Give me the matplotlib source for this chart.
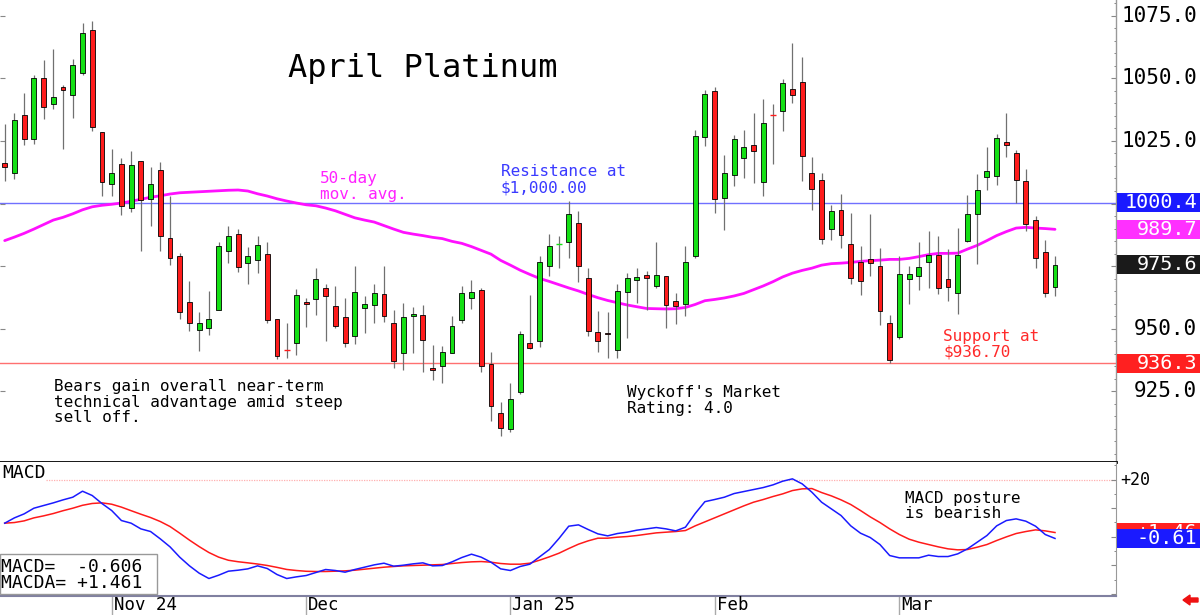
import numpy as np
import matplotlib
matplotlib.use("Agg")
import matplotlib.pyplot as plt
from matplotlib.patches import Rectangle, FancyArrow
from matplotlib.transforms import blended_transform_factory, IdentityTransform
from matplotlib.ticker import MultipleLocator

# ---------------- data ----------------
opens = [1016.0, 1012.0, 1035.2, 1025.6, 1050.0, 1039.8, 1046.6, 1043.2, 1052.3, 1069.4,
         1028.7, 1007.7, 1015.7, 998.1, 1016.8, 1001.8, 1013.4, 986.3, 978.9, 960.6,
         949.5, 950.3, 957.6, 981.1, 987.8, 976.2, 977.3, 979.9, 953.8, 941.5,
         944.2, 960.6, 961.9, 966.2, 959.1, 954.8, 947.1, 958.3, 959.4, 963.8,
         952.2, 940.4, 955.1, 955.6, 934.5, 935.1, 940.2, 953.5, 962.3, 965.5,
         935.9, 916.4, 910.0, 924.7, 944.4, 945.0, 975.1, 983.9, 984.7, 992.2,
         970.1, 948.8, 948.4, 941.5, 964.7, 969.3, 971.5, 967.1, 971.0, 961.2,
         959.9, 978.9, 1026.7, 1045.0, 1002.4, 1011.4, 1018.0, 1023.2, 1008.6, 1035.6,
         1036.8, 1045.6, 1048.6, 1012.0, 1009.3, 989.8, 997.6, 983.9, 976.5, 977.8,
         975.1, 952.2, 946.6, 969.8, 970.9, 976.5, 979.5, 969.8, 964.2, 985.0,
         996.0, 1010.4, 1010.9, 1024.5, 1020.0, 1008.9, 993.6, 980.5, 966.6]
highs = [1031.7, 1036.3, 1044.0, 1051.2, 1057.4, 1061.9, 1047.2, 1057.9, 1072.1, 1073.0,
         1028.7, 1021.6, 1018.1, 1020.8, 1016.8, 1014.7, 1016.5, 1002.9, 980.2, 968.9,
         956.7, 964.9, 984.5, 991.2, 989.8, 982.6, 987.1, 984.5, 953.8, 952.4,
         965.8, 962.3, 974.2, 967.9, 967.0, 962.3, 974.9, 963.1, 967.7, 975.1,
         957.5, 960.2, 958.6, 959.4, 943.4, 943.2, 955.1, 966.9, 969.5, 966.1,
         940.7, 920.7, 928.4, 949.2, 963.3, 979.1, 987.7, 987.1, 1001.0, 997.0,
         974.3, 957.2, 956.7, 967.7, 972.4, 974.1, 972.9, 984.5, 971.0, 964.2,
         983.1, 1029.3, 1045.4, 1046.7, 1019.5, 1027.2, 1029.3, 1036.3, 1041.6, 1039.8,
         1049.9, 1064.0, 1058.7, 1018.6, 1012.0, 999.4, 1003.7, 996.2, 982.9, 995.7,
         982.3, 955.6, 979.1, 974.9, 984.7, 989.0, 986.9, 982.0, 990.1, 1003.3,
         1011.7, 1022.4, 1027.7, 1036.3, 1021.3, 1013.6, 994.9, 985.5, 978.9]
lows = [1009.0, 1009.8, 1023.5, 1023.7, 1033.9, 1037.9, 1021.9, 1034.1, 1051.2, 1028.8,
        1002.9, 1003.2, 995.4, 996.5, 981.0, 990.9, 981.0, 975.4, 953.9, 949.0,
        941.2, 947.5, 957.6, 976.2, 972.6, 967.9, 972.2, 952.2, 937.9, 938.5,
        939.5, 950.6, 955.6, 945.2, 950.3, 942.6, 943.9, 948.2, 952.4, 952.7,
        934.5, 933.7, 940.4, 932.9, 929.5, 928.4, 940.2, 952.4, 957.8, 932.9,
        913.2, 907.0, 908.9, 923.9, 941.8, 942.6, 971.1, 974.3, 978.1, 968.7,
        947.1, 940.7, 938.3, 938.5, 946.3, 960.4, 957.5, 966.1, 950.3, 951.9,
        955.1, 978.3, 1022.9, 996.2, 989.3, 1006.9, 1010.1, 1008.2, 1003.2, 1015.7,
        1029.1, 1040.3, 1009.0, 997.3, 983.9, 985.3, 982.3, 967.7, 963.4, 971.1,
        951.5, 936.3, 945.8, 959.9, 965.3, 966.3, 963.9, 961.2, 955.9, 984.6,
        975.9, 1005.3, 1007.4, 1018.6, 1000.2, 989.0, 974.3, 962.8, 963.1]
closes = [1014.7, 1033.3, 1025.9, 1050.0, 1038.7, 1042.7, 1045.4, 1055.4, 1068.1, 1030.7,
          1008.5, 1012.0, 999.2, 1015.4, 1001.3, 1008.0, 986.9, 978.1, 956.6, 952.2,
          952.4, 953.8, 983.1, 987.1, 974.6, 979.1, 983.5, 953.5, 939.2, 941.4,
          963.5, 959.9, 969.8, 963.1, 951.2, 944.2, 964.6, 959.9, 964.4, 955.1,
          937.2, 954.8, 955.9, 945.6, 933.5, 940.7, 951.2, 964.4, 964.8, 935.1,
          919.3, 910.2, 922.0, 947.9, 942.3, 976.5, 983.1, 984.0, 995.9, 974.9,
          949.0, 945.0, 947.9, 965.0, 970.3, 970.6, 970.1, 971.5, 959.6, 959.1,
          976.7, 1026.9, 1043.6, 1002.0, 1012.2, 1025.6, 1022.4, 1020.8, 1032.0, 1035.5,
          1048.3, 1043.2, 1019.1, 1005.7, 985.8, 996.9, 987.4, 970.3, 969.0, 976.2,
          957.2, 937.5, 971.7, 971.7, 974.6, 979.5, 966.2, 966.6, 979.4, 995.7,
          1005.6, 1012.8, 1026.1, 1023.2, 1009.3, 992.0, 978.1, 964.2, 975.6]
ma50 = [985.2, 986.6, 988.1, 989.8, 991.6, 993.4, 994.5, 995.9, 997.5, 998.7,
        999.3, 999.7, 1000.2, 1000.9, 1001.7, 1002.5, 1003.1, 1003.8, 1004.3, 1004.5,
        1004.7, 1004.9, 1005.1, 1005.3, 1005.4, 1005.0, 1003.9, 1003.0, 1001.9, 1001.0,
        1000.2, 999.5, 999.1, 998.2, 997.1, 995.7, 994.3, 993.4, 992.6, 991.2,
        989.8, 988.5, 987.8, 987.2, 986.5, 986.0, 984.9, 984.1, 982.8, 981.3,
        979.8, 977.3, 975.4, 973.4, 971.7, 970.1, 968.9, 967.6, 966.3, 965.1,
        963.7, 962.4, 961.3, 960.4, 959.5, 958.8, 958.1, 958.0, 957.9, 958.0,
        958.5, 959.7, 961.2, 961.7, 962.3, 963.1, 964.1, 965.6, 967.1, 968.8,
        970.7, 972.2, 973.3, 974.2, 975.4, 976.0, 976.2, 976.5, 976.9, 977.2,
        977.4, 977.7, 977.7, 978.1, 978.8, 979.6, 980.1, 980.1, 980.2, 981.8,
        983.3, 985.2, 987.2, 988.8, 990.2, 990.5, 990.2, 990.0, 989.7]
macd = [4.73, 6.59, 7.99, 9.97, 10.91, 11.84, 12.89, 13.82, 15.92, 14.41,
        11.61, 9.16, 5.66, 4.73, 2.74, 1.81, -0.76, -3.55, -7.17, -10.20,
        -12.77, -14.63, -13.47, -12.07, -11.72, -11.25, -10.20, -11.13, -13.23, -14.63,
        -14.05, -13.58, -12.53, -11.48, -11.83, -12.42, -11.48, -10.67, -9.85, -9.27,
        -10.32, -9.97, -9.50, -9.15, -10.20, -10.08, -8.80, -7.29, -6.12, -7.17,
        -8.92, -11.25, -11.83, -10.43, -9.62, -7.05, -4.49, -0.60, 3.68, 4.14,
        2.51, 0.99, 0.29, 1.11, 1.58, 2.28, 2.74, 3.21, 2.74, 2.04,
        3.33, 8.11, 12.26, 13.01, 13.82, 15.10, 15.80, 16.50, 17.20, 18.14,
        19.42, 20.24, 18.49, 15.57, 12.07, 9.74, 7.41, 3.79, 1.23, -0.29,
        -2.74, -6.59, -7.40, -7.40, -7.40, -6.47, -6.94, -6.94, -6.00, -4.25,
        -1.92, 0.41, 3.79, 5.66, 6.24, 5.43, 3.68, 0.76, -0.61]
macda = [4.73, 4.96, 5.54, 6.59, 7.29, 8.11, 9.10, 9.97, 10.99, 11.63,
         11.84, 11.37, 10.35, 9.10, 7.87, 6.71, 5.31, 3.56, 1.23, -1.20,
         -3.47, -5.54, -7.15, -8.24, -8.76, -9.15, -9.56, -10.07, -10.73, -11.46,
         -11.83, -12.10, -12.18, -12.18, -12.07, -11.95, -11.72, -11.37, -11.02, -10.67,
         -10.43, -10.20, -10.08, -9.97, -9.85, -9.73, -9.38, -9.04, -8.80, -8.69,
         -8.92, -9.38, -9.62, -9.62, -9.27, -8.22, -7.05, -5.77, -4.14, -2.62,
         -1.45, -0.52, -0.52, -0.17, 0.06, 0.41, 0.88, 1.34, 1.58, 1.81,
         2.16, 3.79, 5.19, 6.59, 7.99, 9.39, 10.79, 12.07, 13.01, 14.06,
         14.99, 16.15, 16.74, 16.85, 15.45, 14.29, 12.89, 11.26, 9.16, 6.94,
         4.96, 2.74, 0.76, -0.87, -1.92, -2.74, -3.55, -4.25, -4.60, -4.49,
         -3.67, -2.74, -1.34, -0.06, 1.11, 1.81, 2.39, 2.04, 1.46]
month_pos = [11, 31, 52, 73, 92]
month_labels = ["Nov 24", "Dec", "Jan 25", "Feb", "Mar"]
price_ticks = [925, 950, 975, 1000, 1025, 1050, 1075]
price_labels = ["925.0", "950.0", "", "", "1025.0", "1050.0", "1075.0"]
resistance = 1000.4
support = 936.3
ma_last = 989.7
macd_last = -0.61
macda_last = 1.46

# ---------------- figure ----------------
W, H = 1200, 615
MONO = "DejaVu Sans Mono"
plt.rcParams["font.family"] = [MONO, "DejaVu Sans"]
fig = plt.figure(figsize=(W / 100, H / 100), dpi=100)
fig.patch.set_facecolor("white")


def fx(px):
    return px / W


def fy(py):
    return 1 - py / H


ax = fig.add_axes([0, fy(462), fx(1116), fy(0) - fy(462)])
ax2 = fig.add_axes([0, fy(596), fx(1116), fy(462) - fy(596)])

x = np.arange(len(closes))
o = np.array(opens)
h = np.array(highs)
l = np.array(lows)
c = np.array(closes)

GREEN = "#14e014"
RED = "#ff1c1c"
up = c > o
cols = np.where(up, GREEN, RED)
body = np.abs(c - o)
tiny = body < 0.5

ax.axhline(resistance, color="#7070ff", lw=1.0, zorder=1)
ax.axhline(support, color="#ff7070", lw=1.0, zorder=1)
ax.plot(x, ma50, color="#ff10ff", lw=2.0, zorder=1.5, solid_capstyle="round")
ax.vlines(x, l, h, color="#707070", lw=0.9, zorder=2)
ax.bar(x[~tiny], body[~tiny], bottom=np.minimum(o, c)[~tiny], width=0.5,
       color=cols[~tiny], edgecolor="black", linewidth=0.6, zorder=3)
for xi, ci, col in zip(x[tiny], c[tiny], cols[tiny]):
    ax.hlines(ci, xi - 0.3, xi + 0.3, color=col, lw=1.0, zorder=3)

xlim = (-4.7 / 9.725, (1116 - 4.7) / 9.725)
ax.set_xlim(*xlim)
ax.set_ylim(896.8, 1081.27)
ax.set_xticks([])
ax.set_yticks(price_ticks)
ax.set_yticklabels([])
ax.yaxis.set_minor_locator(MultipleLocator(5))
ax.tick_params(axis="y", which="major", direction="in", length=3.5, width=0.8,
               color="#888888", left=True, right=True, labelleft=False, labelright=False)
ax.tick_params(axis="y", which="minor", direction="in", length=1.8, width=0.7,
               color="#888888", left=False, right=True)
for s in ["top", "left"]:
    ax.spines[s].set_visible(False)
ax.spines["right"].set_color("#999999")
ax.spines["right"].set_linewidth(1.0)
ax.spines["bottom"].set_color("black")
ax.spines["bottom"].set_linewidth(2.0)

tr = blended_transform_factory(fig.transFigure, ax.transData)
for v, s in zip(price_ticks, price_labels):
    if s:
        ax.text(fx(1197), v, s, transform=tr, ha="right", va="center",
                fontsize=15, color="black", clip_on=False)


def value_box(axis, trans, value, text, color, hdata, z, clip_top=None):
    axis.add_patch(Rectangle((fx(1117), value - hdata / 2), fx(83), hdata,
                             transform=trans, facecolor=color, edgecolor="none",
                             clip_on=False, zorder=z))
    t = axis.text(fx(1197), value, text, transform=trans, ha="right", va="center",
                  fontsize=14.5, color="white", clip_on=False, zorder=z + 0.5)
    if clip_top is not None:
        # only the part of the box not covered by the next box stays visible
        lo, hi = clip_top
        cp = Rectangle((fx(1117), lo), fx(83), hi - lo, transform=trans)
        t.set_clip_on(True)
        t.set_clip_box(None)
        t.set_clip_path(cp)
    return t


bh = 19 / 2.504
value_box(ax, tr, resistance, f"{resistance:.1f}", "#1a1aff", bh, 10)
value_box(ax, tr, ma_last, f"{ma_last:.1f}", "#ff30ff", bh, 10)
value_box(ax, tr, closes[-1], f"{closes[-1]:.1f}", "#1a1a1a", bh, 10)
value_box(ax, tr, support, f"{support:.1f}", "#ff2020", bh, 10)

# ---------------- texts on price panel ----------------
fig.text(fx(288), fy(77), "April Platinum", fontsize=23, color="black",
         ha="left", va="baseline")


def lines(xp, ys, texts, color, size=11.5):
    for yp, t in zip(ys, texts):
        fig.text(fx(xp), fy(yp), t, fontsize=size, color=color, ha="left", va="center")


lines(320, [178, 194], ["50-day", "mov. avg."], "#ff22ff")
lines(501, [172, 188], ["Resistance at", "$1,000.00"], "#3a3aff")
lines(54, [386, 402, 418], ["Bears gain overall near-term",
                            "technical advantage amid steep", "sell off."], "black")
lines(627, [393, 409], ["Wyckoff's Market", "Rating: 4.0"], "black")
lines(943, [336, 352], ["Support at", "$936.70"], "#ff2a2a")

# ---------------- MACD panel ----------------
ax2.plot(x, macda, color="#ff1a1a", lw=1.1, zorder=3)
ax2.plot(x, macd, color="#1a1aff", lw=1.1, zorder=4)
ax2.axhline(20, xmin=46 / 1116, color="#ffb0b0", lw=0.9, ls=(0, (1, 1)), zorder=1)
ax2.set_xlim(*xlim)
ax2.set_ylim(-20.75, 26.14)
ax2.set_yticks([20, 10, 0, -10, -20])
ax2.set_yticklabels([])
ax2.yaxis.set_minor_locator(MultipleLocator(5))
ax2.tick_params(axis="y", which="major", direction="in", length=3.5, width=0.8,
                color="#888888", left=False, right=True, labelleft=False, labelright=False)
ax2.tick_params(axis="y", which="minor", direction="in", length=1.8, width=0.7,
                color="#888888", left=False, right=True)
ax2.set_xticks(month_pos)
ax2.set_xticklabels([])
ax2.tick_params(axis="x", direction="out", length=14, width=1.0, color="#aaaaaa")
for s in ["top", "left"]:
    ax2.spines[s].set_visible(False)
ax2.spines["right"].set_color("#999999")
ax2.spines["bottom"].set_color("#8080a0")
ax2.spines["bottom"].set_linewidth(1.5)

trx = blended_transform_factory(ax2.transData, ax2.transAxes)
for p, lab in zip(month_pos, month_labels):
    ax2.text(p + 0.2, -0.068, lab, transform=trx, ha="left", va="center",
             fontsize=12.5, color="black", clip_on=False)

tr2 = blended_transform_factory(fig.transFigure, ax2.transData)
ax2.text(fx(1120), 20, "+20", transform=tr2, ha="left", va="center", fontsize=12,
         color="black", clip_on=False)
bh2 = 19 / 2.858
value_box(ax2, tr2, macda_last, f"+{macda_last:.2f}", "#ff2020", bh2, 10,
          clip_top=(macd_last + bh2 / 2, macda_last + bh2 / 2))
value_box(ax2, tr2, macd_last, f"{macd_last:.2f}", "#1a1aff", bh2, 12)

fig.text(fx(2), fy(473), "MACD", fontsize=13, color="black", ha="left", va="center")
lines(905, [498, 514], ["MACD posture", "is bearish"], "black", size=11.5)

fig.add_artist(Rectangle((fx(0), fy(594)), fx(157), fy(554) - fy(594),
                         transform=fig.transFigure, facecolor="white",
                         edgecolor="#999999", lw=1.0, zorder=2))
fig.text(fx(1), fy(567), "MACD=  -0.606", fontsize=13, color="black",
         ha="left", va="center", zorder=3)
fig.text(fx(1), fy(583), "MACDA= +1.461", fontsize=13, color="black",
         ha="left", va="center", zorder=3)

fig.add_artist(FancyArrow(1198, 15, -8, 0, width=4, head_width=10, head_length=7,
                          transform=IdentityTransform(), color="#ee1111",
                          length_includes_head=False))

fig.savefig("out.png", dpi=100, facecolor="white")
